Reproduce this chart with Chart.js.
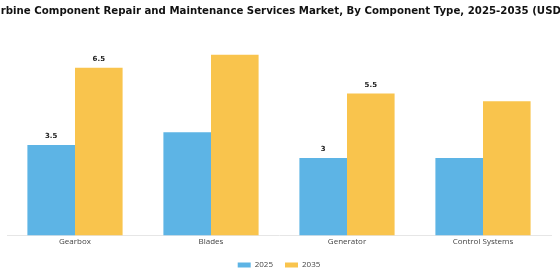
<!DOCTYPE html>
<html><head><meta charset="utf-8">
<script src="https://cdn.jsdelivr.net/npm/chart.js@4/dist/chart.umd.min.js"></script>
<style>html,body{margin:0;padding:0;background:#fff}#w{width:560px;height:280px}</style>
</head><body><div id="w"><canvas id="c"></canvas></div>
<script>
const categories = ["Gearbox", "Blades", "Generator", "Control Systems"];
const values2025 = [3.5, 4.0, 3.0, 3.0];
const values2035 = [6.5, 7.0, 5.5, 5.2];
const labels2025 = ["3.5", "", "3", ""];
const labels2035 = ["6.5", "", "5.5", ""];
const seriesNames = ["2025", "2035"];
const titleText = "Wind Turbine Component Repair and Maintenance Services Market, By Component Type, 2025-2035 (USD Billion)";

const valueLabels = {
  id: 'valueLabels',
  afterDatasetsDraw(chart) {
    const ctx = chart.ctx;
    const lists = [labels2025, labels2035];
    ctx.save();
    ctx.font = 'bold 7px DejaVu Sans, sans-serif';
    ctx.fillStyle = '#222';
    ctx.textAlign = 'center';
    ctx.textBaseline = 'bottom';
    chart.data.datasets.forEach((ds, i) => {
      const meta = chart.getDatasetMeta(i);
      meta.data.forEach((bar, j) => {
        const t = lists[i][j];
        if (t) ctx.fillText(t, bar.x, bar.y - 5);
      });
    });
    ctx.restore();
  }
};

const wideTitle = {
  id: 'wideTitle',
  afterDraw(chart) {
    const ctx = chart.ctx;
    ctx.save();
    ctx.font = 'bold 10.2px DejaVu Sans, sans-serif';
    ctx.fillStyle = '#111';
    ctx.textAlign = 'center';
    ctx.textBaseline = 'middle';
    ctx.fillText(titleText, chart.width / 2, 11);
    ctx.restore();
  }
};

new Chart(document.getElementById('c'), {
  type: 'bar',
  data: {
    labels: categories,
    datasets: [
      { label: seriesNames[0], data: values2025, backgroundColor: '#5DB4E5' },
      { label: seriesNames[1], data: values2035, backgroundColor: '#F9C44D' }
    ]
  },
  options: {
    responsive: true,
    maintainAspectRatio: false,
    animation: false,
    layout: { padding: { left: 7, right: 9, top: 29, bottom: 1 } },
    datasets: { bar: { categoryPercentage: 0.7, barPercentage: 1.0 } },
    scales: {
      x: {
        grid: { display: false, drawTicks: false },
        border: { display: true, color: '#e6e6e6' },
        ticks: { color: '#444', font: { family: '"Open Sans"', size: 8 }, padding: 2 }
      },
      y: { display: false, min: 0, max: 8 }
    },
    plugins: {
      title: { display: false },
      legend: {
        position: 'bottom',
        labels: { boxWidth: 13, boxHeight: 5, color: '#444', font: { family: '"Open Sans"', size: 8 }, padding: 12 }
      },
      tooltip: { enabled: false }
    }
  },
  plugins: [valueLabels, wideTitle]
});
</script></body></html>
